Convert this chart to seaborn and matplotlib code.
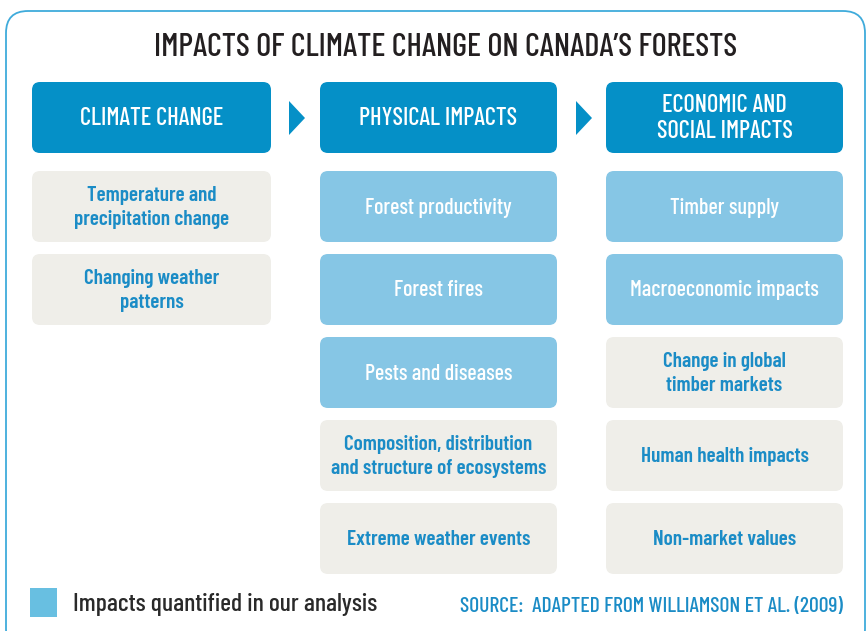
import matplotlib
matplotlib.use("Agg")
import matplotlib.pyplot as plt
import seaborn as sns
from matplotlib.patches import FancyBboxPatch, Polygon

sns.set_theme(style="white")
FONT = ['Barlow Condensed', 'DejaVu Sans']
plt.rcParams['font.family'] = FONT

title = "IMPACTS OF CLIMATE CHANGE ON CANADA’S FORESTS"
headers = ["CLIMATE CHANGE", "PHYSICAL IMPACTS", "ECONOMIC AND\nSOCIAL IMPACTS"]
col1 = ["Temperature and\nprecipitation change", "Changing weather\npatterns"]
col1_quant = [False, False]
col2 = ["Forest productivity", "Forest fires", "Pests and diseases",
        "Composition, distribution\nand structure of ecosystems", "Extreme weather events"]
col2_quant = [True, True, True, False, False]
col3 = ["Timber supply", "Macroeconomic impacts", "Change in global\ntimber markets",
        "Human health impacts", "Non-market values"]
col3_quant = [True, True, False, False, False]
legend_label = "Impacts quantified in our analysis"
source = "SOURCE:  ADAPTED FROM WILLIAMSON ET AL. (2009)"

DARK = "#0590c7"
QUANT = "#86c6e5"
GREY = "#efeee9"
BLUE_TXT = "#1b8cc6"
LEG = "#68bfe1"

W, H = 868, 631
fig = plt.figure(figsize=(W / 100, H / 100), dpi=100)
ax = fig.add_axes([0, 0, 1, 1])
ax.set_xlim(0, W)
ax.set_ylim(H, 0)
ax.axis("off")
renderer = fig.canvas.get_renderer()


def fit(s, width_px, weight):
    t = fig.text(0, 0, s, fontsize=20, fontweight=weight)
    w = t.get_window_extent(renderer).width
    t.remove()
    return 20 * width_px / w


fs_title = fit(title, 585, 500)
fs_head = fit(headers[0], 144, 500)
fs_white = fit(col2[0], 147, 500)
fs_grey = fit("and structure of ecosystems", 215, 600)
fs_leg = fit(legend_label, 305, 500)
fs_src = fit(source, 383, 500)

# outer border
ax.add_patch(FancyBboxPatch((6, 11), 859, 640, boxstyle="round,pad=0,rounding_size=22",
                            fc="white", ec="#3fabdb", lw=1.3))

ax.text(446, 47, title, ha="center", va="center", fontsize=fs_title,
        fontweight=500, color="#231f20")

col_x = [(32, 271), (320, 557), (606, 843)]
hdr_y = (82, 153)
row_y0, row_h, row_gap = 171, 71, 12


def box(x0, x1, y0, y1, fc):
    ax.add_patch(FancyBboxPatch((x0, y0), x1 - x0, y1 - y0,
                                boxstyle="round,pad=0,rounding_size=8",
                                fc=fc, ec="none"))


for (x0, x1), h in zip(col_x, headers):
    box(x0, x1, hdr_y[0], hdr_y[1], DARK)
    ax.text((x0 + x1) / 2, (hdr_y[0] + hdr_y[1]) / 2 + 1, h, ha="center", va="center",
            fontsize=fs_head, fontweight=500, color="white", linespacing=1.15)

# arrows
for ax0 in (289, 576):
    ax.add_patch(Polygon([(ax0, 101), (ax0 + 16, 118), (ax0, 135)], closed=True,
                         fc=DARK, ec="none"))

for (x0, x1), labels, quant in zip(col_x, [col1, col2, col3],
                                   [col1_quant, col2_quant, col3_quant]):
    for i, (lab, q) in enumerate(zip(labels, quant)):
        y0 = row_y0 + i * (row_h + row_gap)
        box(x0, x1, y0, y0 + row_h, QUANT if q else GREY)
        ax.text((x0 + x1) / 2, y0 + row_h / 2 + 1, lab, ha="center", va="center",
                fontsize=fs_white if q else fs_grey,
                color="white" if q else BLUE_TXT,
                fontweight=500 if q else 600, linespacing=1.33)

# legend
ax.add_patch(plt.Rectangle((30, 588), 27, 29, fc=LEG, ec="none"))
ax.text(73, 604, legend_label, ha="left", va="center", fontsize=fs_leg,
        fontweight=500, color="#2a2a2a")
ax.text(843, 606, source, ha="right", va="center", fontsize=fs_src,
        fontweight=500, color=BLUE_TXT)

fig.savefig("out.png", dpi=100)
